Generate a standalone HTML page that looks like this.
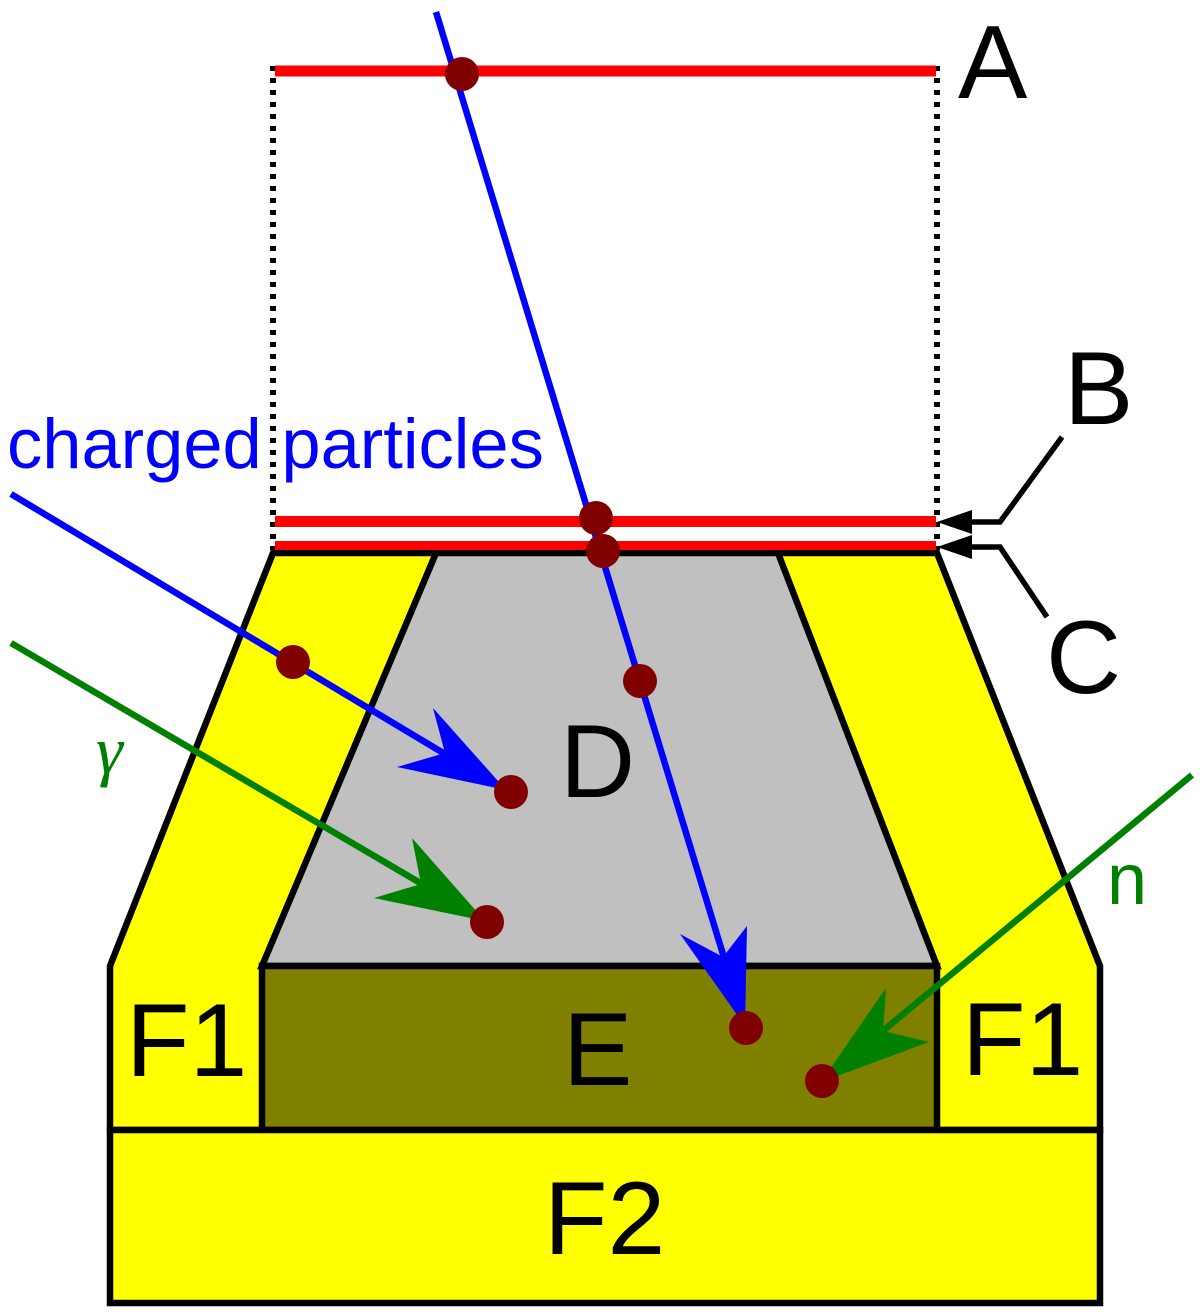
<!DOCTYPE html>
<html>
<head>
<meta charset="utf-8">
<style>
html,body{margin:0;padding:0;background:#fff;}
svg{display:block;}
</style>
</head>
<body>
<svg width="1200" height="1314" viewBox="0 0 1200 1314" xmlns="http://www.w3.org/2000/svg">
  <rect x="0" y="0" width="1200" height="1314" fill="#ffffff"/>

  <!-- outer yellow F1 shape -->
  <polygon points="273,553 937,553 1100,966 1100,1130 110,1130 110,966" fill="#ffff00" stroke="#000" stroke-width="6.5" stroke-linejoin="miter"/>
  <!-- D trapezoid -->
  <polygon points="436,553 778,553 937,966 262,966" fill="#c0c0c0" stroke="#000" stroke-width="6.5"/>
  <!-- E rect -->
  <rect x="262" y="966" width="675" height="164" fill="#808000" stroke="#000" stroke-width="6.5"/>
  <!-- F2 rect -->
  <rect x="110" y="1130" width="990" height="173" fill="#ffff00" stroke="#000" stroke-width="6.5"/>

  <!-- dotted verticals -->
  <line x1="273" y1="66" x2="273" y2="550" stroke="#000" stroke-width="6" stroke-dasharray="5,7"/>
  <line x1="937" y1="66" x2="937" y2="550" stroke="#000" stroke-width="6" stroke-dasharray="5,7"/>

  <!-- red lines -->
  <line x1="275" y1="71" x2="936" y2="71" stroke="#ff0000" stroke-width="11"/>
  <line x1="275" y1="521.5" x2="936" y2="521.5" stroke="#ff0000" stroke-width="11"/>
  <line x1="275" y1="545.5" x2="936" y2="545.5" stroke="#ff0000" stroke-width="9"/>

  <!-- B / C pointers -->
  <polyline points="968,522 1000,522 1062,437" fill="none" stroke="#000" stroke-width="5.5"/>
  <polygon points="937,522 972,510 972,534" fill="#000"/>
  <polyline points="968,547 1000,547 1047,617" fill="none" stroke="#000" stroke-width="5.5"/>
  <polygon points="937,547 972,535 972,559" fill="#000"/>

  <!-- main blue track -->
  <line x1="436" y1="12" x2="743" y2="1020" stroke="#0000ff" stroke-width="6.5"/>
  <polygon points="745,1026 680,934 723,957 747,926" fill="#0000ff"/>

  <!-- charged particle from left -->
  <line x1="11" y1="494" x2="500" y2="787" stroke="#0000ff" stroke-width="6.5"/>
  <polygon points="506,790 433,708 445,753 397,767" fill="#0000ff"/>

  <!-- gamma -->
  <line x1="11" y1="643" x2="480" y2="918" stroke="#008000" stroke-width="6.5"/>
  <polygon points="485,921 412,838 421,884 374,898" fill="#008000"/>

  <!-- neutron -->
  <line x1="1192" y1="775" x2="826" y2="1078" stroke="#008000" stroke-width="6.5"/>
  <polygon points="821,1082 886,988 883,1031 929,1042" fill="#008000"/>

  <!-- dots -->
  <g fill="#800000">
    <circle cx="462" cy="74" r="17"/>
    <circle cx="596" cy="518" r="17"/>
    <circle cx="603" cy="551" r="17"/>
    <circle cx="640" cy="681" r="17"/>
    <circle cx="293" cy="662" r="17"/>
    <circle cx="511" cy="792" r="17"/>
    <circle cx="487" cy="922" r="17"/>
    <circle cx="746" cy="1028" r="17"/>
    <circle cx="822" cy="1081" r="17"/>
  </g>

  <!-- labels -->
  <g font-family="'Liberation Sans', Arial, sans-serif" font-size="104" fill="#000">
    <text x="958" y="98">A</text>
    <text x="1064" y="424">B</text>
    <text x="1046" y="693">C</text>
    <text x="560" y="797">D</text>
    <text x="563" y="1085">E</text>
    <text x="126" y="1076">F1</text>
    <text x="962" y="1075">F1</text>
    <text x="544" y="1254">F2</text>
  </g>
  <text x="7" y="468" font-family="'Liberation Sans', Arial, sans-serif" font-size="70.5" fill="#0000ff">charged particles</text>
  <text x="96" y="773" font-family="'Liberation Serif', 'Times New Roman', serif" font-style="italic" font-size="68" fill="#008000">γ</text>
  <text x="1107" y="904" font-family="'Liberation Sans', Arial, sans-serif" font-size="72" fill="#008000">n</text>
</svg>
</body>
</html>
